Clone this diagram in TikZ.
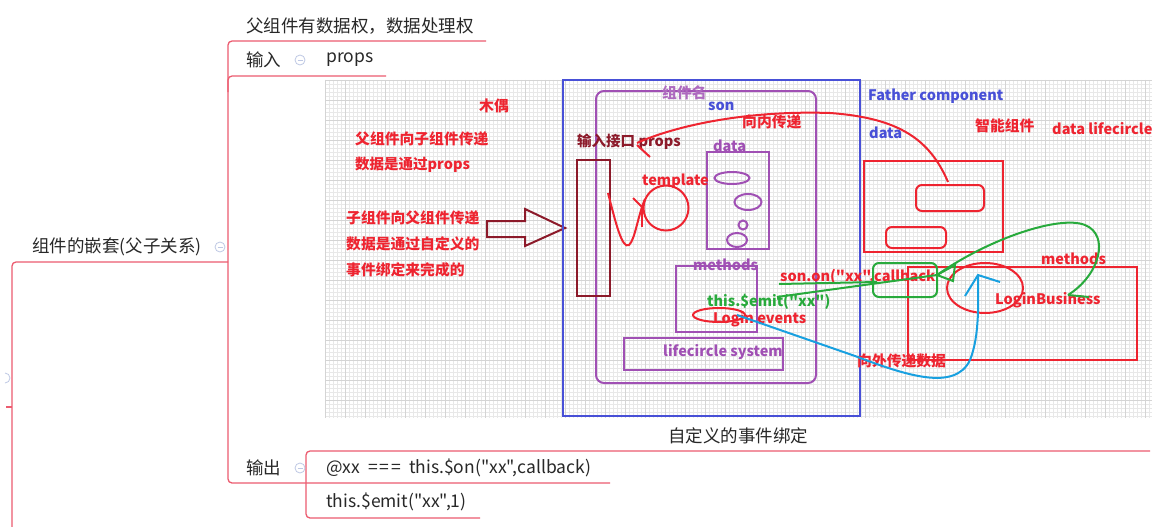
\documentclass[tikz,border=0pt]{standalone}
\usepackage{fontspec}
\setmainfont{Noto Sans CJK SC}[Ligatures=TeXOff]
\definecolor{mmline}{RGB}{236,92,112}
\definecolor{mmtext}{RGB}{40,40,40}
\definecolor{mmicon}{RGB}{190,200,228}
\definecolor{lred}{RGB}{238,36,48}
\definecolor{lpurple}{RGB}{160,80,180}
\definecolor{lblue}{RGB}{72,80,215}
\definecolor{ldred}{RGB}{140,26,42}
\definecolor{lgreen}{RGB}{40,170,60}
\definecolor{lsky}{RGB}{24,160,224}
\definecolor{gfine}{RGB}{232,232,232}
\definecolor{gmajor}{RGB}{212,212,212}
\begin{document}
\begin{tikzpicture}[x=1pt,y=-1pt,
  mm/.style={draw=mmline,line width=1.3pt,rounded corners=4pt},
  mmt/.style={anchor=west,inner sep=0pt,text=mmtext,font=\fontsize{17.5}{17.5}\selectfont},
  lab/.style={anchor=west,inner sep=0pt,font=\bfseries\fontsize{14.5}{14.5}\selectfont},
  labc/.style={anchor=west,inner sep=0pt,font=\bfseries\fontsize{14.8}{14.8}\selectfont},
  pen/.style={line width=2pt},
  collapse/.pic={\draw[mmicon,line width=0.8pt] (0,0) circle (5pt); \draw[mmicon,line width=0.8pt] (-2.5,0)--(2.5,0);}
]
\useasboundingbox (0,0) rectangle (1170,527);
\fill[white] (0,0) rectangle (1170,527);
% grid background
\foreach \x in {325,329,...,1152} \draw[gfine,line width=0.5pt] (\x,80)--(\x,418);
\foreach \y in {80,84,...,418} \draw[gfine,line width=0.5pt] (325,\y)--(1152,\y);
\foreach \x in {325,345,...,1152} \draw[gmajor,line width=0.5pt] (\x,80)--(\x,418);
\foreach \y in {80,100,...,418} \draw[gmajor,line width=0.5pt] (325,\y)--(1152,\y);

% mind map lines
\draw[mm] (486,41) -- (228,41) -- (228,483) -- (610,483);
\draw[mm] (228,92) -- (228,76) -- (386,76);
\draw[mm] (228,262) -- (12,262) -- (12,527);
\draw[mm] (6,407) -- (12,407);
\draw[mm] (1150,451) -- (306,451) -- (306,518) -- (480,518);
\draw[mmicon,line width=0.8pt] (5,373) arc (90:-90:5pt);

% mind map texts
\node[mmt] (t1) at (246,26) {父组件有数据权，数据处理权};
\node[mmt] (t2) at (246,60) {输入};
\pic at (300,60) {collapse};
\node[mmt] (t3) at (326,60) {props};
\node[mmt] (root) at (32,247) {组件的嵌套(父子关系)};
\pic at (220,247) {collapse};
\node[mmt] (t4) at (246,468) {输出};
\pic at (300,468) {collapse};
\node[mmt] (t5) at (326,468) {@xx\kern4pt\ =\kern2pt=\kern2pt=\kern4pt\ this.\$on("xx",callback)};
\node[mmt] (t6) at (326,502) {this.\$emit("xx",1)};
\node[mmt,anchor=center] (cap) at (738,436) {自定义的事件绑定};

% ---- picture content ----
% left labels
\node[labc,text=lred] (l1) at (479,106) {木偶};
\node[labc,text=lred] (l2) at (355,139) {父组件向子组件传递};
\node[lab,text=lred] (l3) at (355,165) {数据是通过props};
\node[labc,text=lred] (l4) at (346,218) {子组件向父组件传递};
\node[labc,text=lred] (l5) at (346,244) {数据是通过自定义的};
\node[labc,text=lred] (l6) at (346,270) {事件绑定来完成的};
% hollow arrow
\draw[ldred,pen,line join=miter] (487,221) -- (525,221) -- (525,209) -- (565,228) -- (525,246) -- (525,237) -- (487,237) -- cycle;

% blue outer box
\draw[lblue,pen] (563,80) rectangle (860,416);
% purple son box
\draw[lpurple,pen,rounded corners=8pt] (596,91) rectangle (816,383);
\node[labc,text=lpurple!85] (zjm) at (662,93) {组件名};
\node[lab,text=lblue] (son) at (708,106) {son};
\node[labc,text=lred] (nei) at (742,122) {向内传递};
\node[lab,text=ldred] (port) at (577,142) {输入接口 props};
% input port
\draw[ldred,pen] (577,160) rectangle (610,296);
% data box
\node[lab,text=lpurple] (dat) at (713,146) {data};
\draw[lpurple,pen] (707,152) rectangle (769,249);
\draw[lpurple,pen] (732,178) ellipse (17.5pt and 6pt);
\draw[lpurple,pen] (748,202) ellipse (13.5pt and 8pt);
\draw[lpurple,pen] (743,225) circle (4.5pt);
\draw[lpurple,pen] (737,240) ellipse (10pt and 7pt);
% template
\node[lab,text=lred] (tpl) at (642,181) {template};
\draw[lred,pen] (666,208) circle (22.5pt);
\draw[lred,pen] (608,193) .. controls (615,220) and (622,250) .. (629,245) .. controls (635,240) and (638,215) .. (645,199);
\draw[lred,pen] (633,198) -- (643,208);
\draw[lred,pen] (642,205) -- (642,227);
% methods box
\draw[lpurple,pen] (676,266) rectangle (757,332);
\node[lab,text=lpurple] (meth) at (693,265) {methods};
\node[lab,text=lgreen] (emit) at (707,302) {this.\$emit("xx")};
\node[lab,text=lred] (login) at (713,319) {Login events};
\draw[lred,pen] (719,315) ellipse (26pt and 7pt);
% lifecircle
\draw[lpurple,pen] (624,338) rectangle (783,370);
\node[lab,text=lpurple] (life) at (663,352) {lifecircle system};

% inward red arc
\draw[lred,pen] (948,182) .. controls (930,140) and (900,118) .. (830,113) .. controls (740,110) and (670,128) .. (637,143);
\draw[lred,pen] (637,145) -- (650,157);

% father component
\node[lab,text=lblue] (fc) at (868,96) {Father component};
\node[lab,text=lblue] (fdata) at (869,133) {data};
\node[labc,text=lred] (smart) at (975,126) {智能组件};
\node[lab,text=lred] (dlc) at (1052,129) {data lifecircle};
\draw[lred,pen] (864,161) rectangle (1003,252);
\draw[lred,pen,rounded corners=6pt] (916,185) rectangle (984,211);
\draw[lred,pen,rounded corners=6pt] (886,227) rectangle (946,248);
% father methods
\node[lab,text=lred] (fmeth) at (1041,259) {methods};
\draw[lred,pen] (908,267) rectangle (1137,360);
\draw[lred,pen] (985,288) ellipse (38pt and 25pt);
\node[lab,text=lred] (lb) at (995,300) {LoginBusiness};
\node[labc,text=lred] (out) at (857,361) {向外传递数据};

% son.on
\node[lab,text=lred] (sonon) at (780,277) {son.on("xx",callback};
\draw[lgreen,pen,rounded corners=6pt] (873,263) rectangle (937,297);
\draw[lgreen,pen] (779,284) -- (877,282);
\draw[lgreen,pen] (777,297) -- (937,275);
\draw[lgreen,pen] (937,275) -- (955,265) -- (953,281) -- cycle;
% green loop
\draw[lgreen,pen] (937,275) .. controls (990,238) and (1060,215) .. (1085,225) .. controls (1110,235) and (1100,275) .. (1068,295);
\draw[lgreen,pen] (1068,295) -- (1089,297);

% blue outward curve
\draw[lsky,pen] (737,315) -- (855,356) .. controls (905,375) and (955,392) .. (970,360) .. controls (980,335) and (978,300) .. (978,276);
\draw[lsky,pen] (965,296) -- (978,275) -- (1000,282);
\end{tikzpicture}
\end{document}
